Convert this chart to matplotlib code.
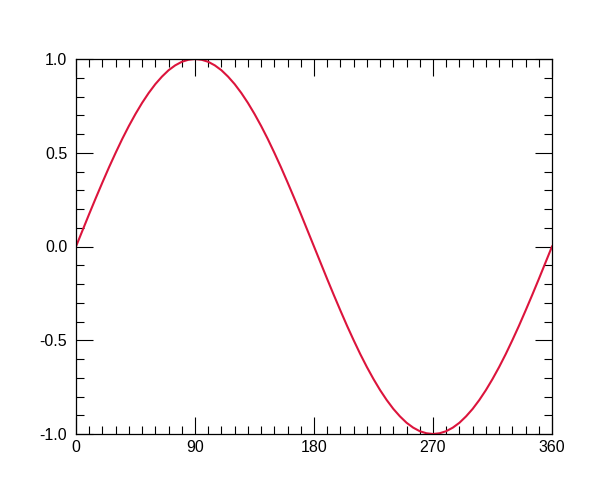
import matplotlib
matplotlib.use("Agg")
import matplotlib.pyplot as plt
from matplotlib.ticker import MultipleLocator

plt.rcParams['font.family'] = ['Liberation Sans', 'DejaVu Sans']

# Values at every 5 degrees
angle_deg = list(range(0, 361, 5))
first_half = [0.000, 0.087, 0.174, 0.259, 0.342, 0.423, 0.500, 0.574, 0.643, 0.707,
              0.766, 0.819, 0.866, 0.906, 0.940, 0.966, 0.985, 0.996, 1.000,
              0.996, 0.985, 0.966, 0.940, 0.906, 0.866, 0.819, 0.766, 0.707,
              0.643, 0.574, 0.500, 0.423, 0.342, 0.259, 0.174, 0.087]
second_half = [0.000, -0.087, -0.174, -0.259, -0.342, -0.423, -0.500, -0.574, -0.643, -0.707,
               -0.766, -0.819, -0.866, -0.906, -0.940, -0.966, -0.985, -0.996, -1.000,
               -0.996, -0.985, -0.966, -0.940, -0.906, -0.866, -0.819, -0.766, -0.707,
               -0.643, -0.574, -0.500, -0.423, -0.342, -0.259, -0.174, -0.087, 0.000]
values = first_half + second_half
x_ticks = [0, 90, 180, 270, 360]
y_ticks = [-1.0, -0.5, 0.0, 0.5, 1.0]

fig = plt.figure(figsize=(6.0, 4.99), dpi=100)
ax = fig.add_axes([76/600, 1-434/499, (552-76)/600, (434-59)/499])
ax.plot(angle_deg, values, color='#DC143C', linewidth=1.5)

ax.set_xlim(0, 360)
ax.set_ylim(-1, 1)
ax.set_xticks(x_ticks)
ax.set_yticks(y_ticks)
ax.set_xticklabels([str(t) for t in x_ticks])
ax.set_yticklabels([f"{t:.1f}" for t in y_ticks])
ax.xaxis.set_minor_locator(MultipleLocator(10))
ax.yaxis.set_minor_locator(MultipleLocator(0.1))
ax.tick_params(which='both', direction='in', top=True, right=True, width=0.8, color='black')
ax.tick_params(which='major', length=12, labelsize=11.5)
ax.tick_params(which='minor', length=6)
ax.tick_params(axis='x', which='major', pad=4.0)
ax.tick_params(axis='y', which='major', pad=6.3)
for s in ax.spines.values():
    s.set_linewidth(0.9)
    s.set_color('black')

fig.savefig('out.png', dpi=100)
